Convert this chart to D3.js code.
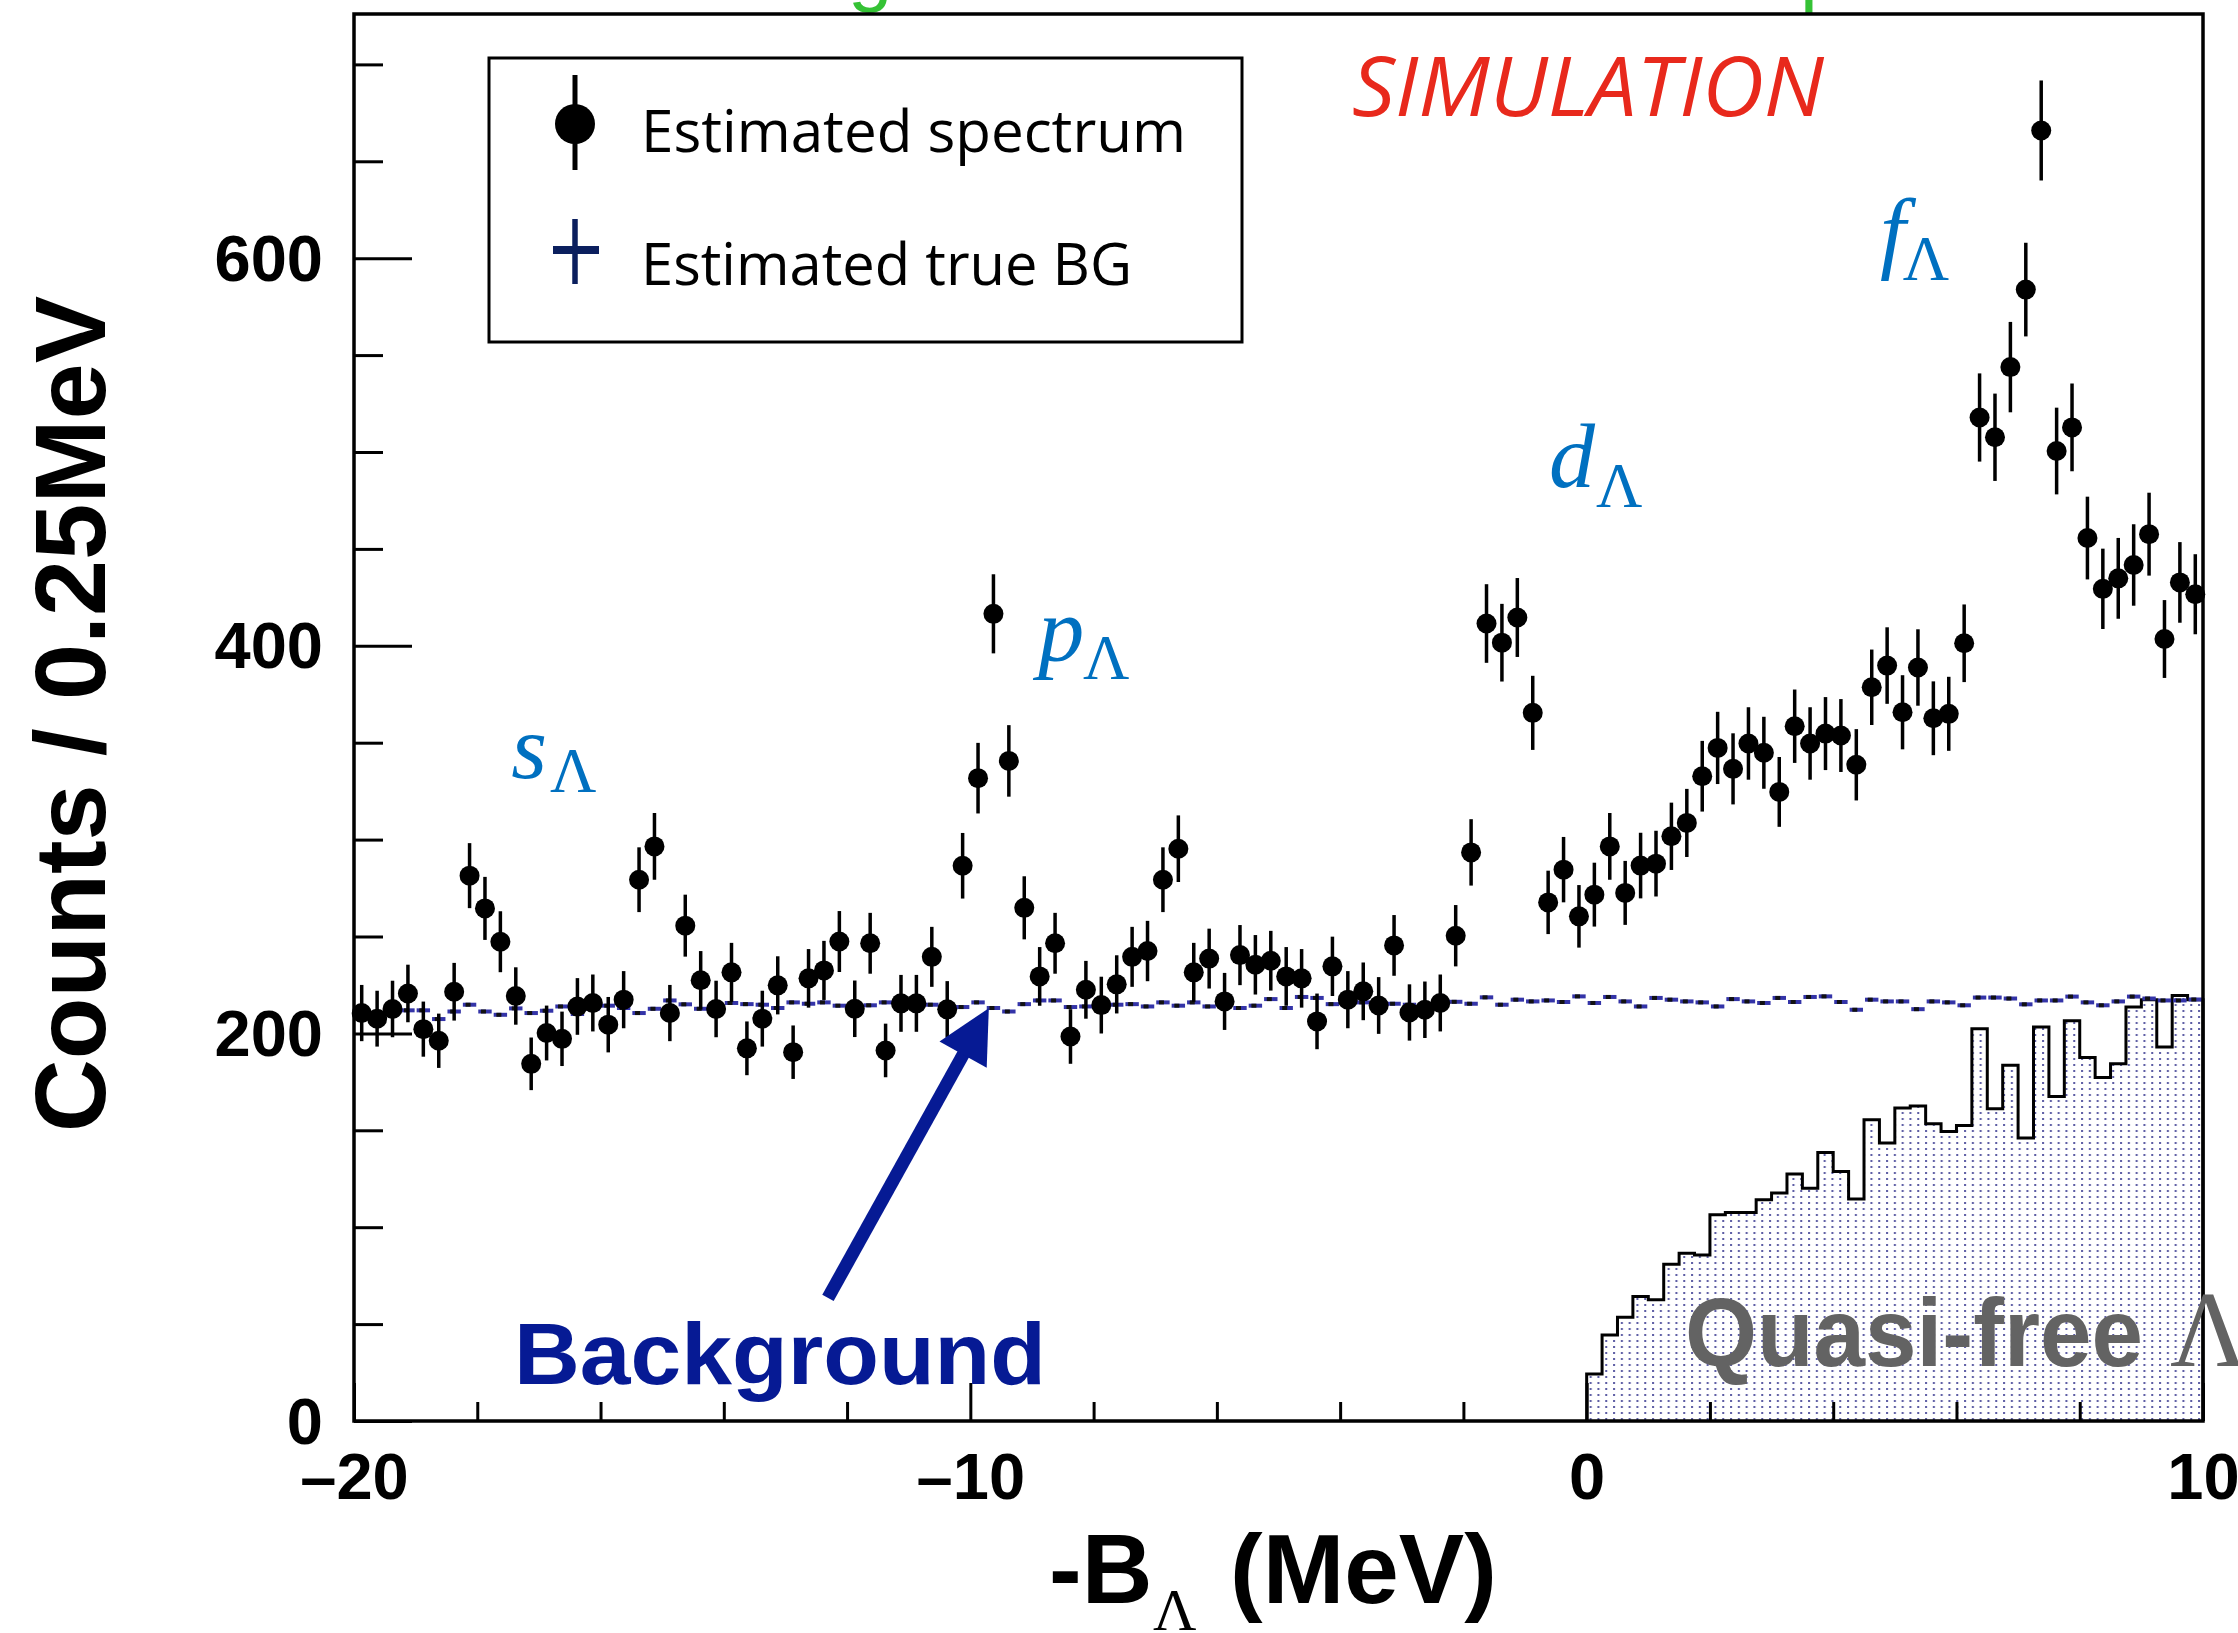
<!DOCTYPE html>
<html>
<head>
<meta charset="utf-8">
<script src="https://cdn.jsdelivr.net/npm/d3@7"></script>
<style>
  html, body { margin: 0; padding: 0; background: #fff; }
  svg { display: block; }
</style>
</head>
<body>
<svg id="chart" width="2238" height="1633"></svg>
<script>
// ---------------- DATA ----------------
const binWidth = 0.25;      // MeV
const xRange = [-20, 10];
const yMax = 726;

// Estimated spectrum (counts per 0.25 MeV bin, 120 bins from -20 to 10 MeV)
const spectrum = [
  210.5, 207.6, 212.6, 220.6, 202.2, 196.2, 221.5, 281.4, 264.5, 247.3,
  219.3, 184.3, 200.2, 197.2, 213.9, 215.7, 204.5, 217.4, 279.3, 296.5,
  210.5, 255.6, 227.4, 212.6, 231.5, 192.3, 207.6, 224.8, 190.3, 228.4,
  232.5, 247.4, 212.7, 246.5, 191.2, 215.5, 215.5, 239.5, 212.4, 286.5,
  331.7, 416.5, 340.6, 264.8, 229.4, 246.5, 198.4, 222.5, 214.6, 225.3,
  239.5, 242.5, 279.3, 295.3, 231.5, 238.6, 216.5, 240.4, 235.4, 237.5,
  229.4, 228.4, 206.2, 234.6, 217.4, 221.7, 214.4, 245.4, 210.8, 212.2,
  215.7, 250.4, 293.4, 411.5, 401.6, 414.6, 365.4, 267.6, 284.5, 260.4,
  271.6, 296.5, 272.5, 286.6, 287.6, 301.7, 308.6, 332.7, 347.3, 336.5,
  349.6, 344.8, 324.6, 358.5, 349.6, 354.7, 353.7, 338.6, 378.6, 389.8,
  365.7, 388.8, 362.6, 364.9, 401.3, 517.8, 507.6, 543.8, 583.8, 665.9,
  500.5, 512.7, 455.6, 429.4, 434.8, 441.7, 457.6, 403.5, 432.7, 426.6
];

// Estimated true BG (120 bins)
const background = [
  211.7, 208.8, 211.3, 211.9, 211.9, 207.4, 211.3, 214.8, 211.3, 209.6,
  212.9, 210.5, 211.7, 213.9, 210.0, 212.6, 214.3, 213.1, 210.5, 212.7,
  217.0, 215.0, 212.7, 213.6, 215.7, 215.1, 214.8, 213.1, 216.0, 215.3,
  216.0, 214.3, 212.7, 214.5, 216.0, 212.7, 215.1, 214.8, 214.3, 213.6,
  216.0, 213.1, 211.3, 215.1, 217.0, 217.0, 213.6, 213.9, 217.4, 214.8,
  215.1, 213.9, 216.0, 214.3, 216.0, 213.9, 216.2, 213.1, 214.3, 217.7,
  213.1, 218.8, 218.3, 215.1, 215.1, 216.0, 216.2, 215.3, 214.8, 214.8,
  217.7, 216.3, 215.3, 218.6, 214.8, 217.4, 216.5, 217.0, 216.2, 219.1,
  215.7, 218.8, 216.5, 213.9, 218.3, 217.4, 216.5, 216.0, 213.9, 217.7,
  216.5, 215.7, 218.3, 216.2, 218.8, 219.1, 216.2, 212.2, 217.4, 216.5,
  216.5, 212.5, 216.5, 216.0, 214.5, 218.5, 218.5, 218.0, 215.0, 217.0,
  217.0, 219.0, 216.0, 214.5, 216.5, 219.0, 218.0, 217.0, 217.0, 217.5
];

// Quasi-free Lambda histogram (40 bins from 0 to 10 MeV)
const quasiFreeStart = 0;
const quasiFree = [
  24.3, 44.4, 53.5, 64.2, 62.5, 80.9, 86.6, 85.7, 106.4, 107.6,
  107.6, 114.1, 117.6, 127.5, 120.1, 138.5, 128.7, 114.5, 155.4, 143.4,
  161.5, 162.6, 153.4, 149.4, 152.5, 202.4, 161.1, 183.5, 146.0, 203.3,
  167.5, 206.5, 187.6, 177.3, 184.3, 213.6, 217.4, 193.0, 219.6, 217.4
];

// Tick definitions
const xMajorTicks = [-20, -10, 0, 10];
const xMinorTicks = [-18, -16, -14, -12, -8, -6, -4, -2, 2, 4, 6, 8];
const yMajorTicks = [0, 200, 400, 600];
const yMinorTicks = [50, 100, 150, 250, 300, 350, 450, 500, 550, 650, 700];

const legendLabels = ["Estimated spectrum", "Estimated true BG"];

// Peak labels: [letter, x(MeV), y(counts), subscript x, subscript y]
const peakLabels = [
  ["s", -17.45, 332.0, -16.82, 324.8],
  ["p", -8.90, 392.4, -8.17, 383.1],
  ["d", -0.61, 481.7, 0.15, 471.4],
  ["f", 4.76, 597.9, 5.13, 588.6]
];

// ---------------- LAYOUT ----------------
const svg = d3.select("#chart");
const L = 354, R = 2203, T = 14, B = 1421;
const x = d3.scaleLinear().domain(xRange).range([L, R]);
const y = d3.scaleLinear().domain([0, yMax]).range([B, T]);

const SANS = "'Liberation Sans', Arial, Helvetica, sans-serif";
const SERIF = "'Liberation Serif', 'Times New Roman', serif";
const ROUND = "'Open Sans', 'Noto Sans', sans-serif";

// pattern for quasi-free fill
const defs = svg.append("defs");
const pat = defs.append("pattern")
  .attr("id", "dots").attr("patternUnits", "userSpaceOnUse")
  .attr("x", x(0)).attr("y", 0)
  .attr("width", 7.8).attr("height", 6);
pat.append("rect").attr("x", 3).attr("y", 2).attr("width", 2).attr("height", 2)
  .attr("fill", "#5a5aa2");

const clip = defs.append("clipPath").attr("id", "plotclip");
clip.append("rect").attr("x", L).attr("y", T).attr("width", R - L).attr("height", B - T);

// green (cut-off) text at very top
svg.append("text").attr("x", 848).attr("y", -4)
  .attr("font-family", SANS).attr("font-size", 80).attr("fill", "#35c235").text("g");
svg.append("text").attr("x", 1800).attr("y", -2)
  .attr("font-family", SANS).attr("font-size", 80).attr("fill", "#35c235").text("p");

// ---------------- QUASI-FREE HISTOGRAM ----------------
const qfPts = quasiFree.map((v, i) => [quasiFreeStart + i * binWidth, v]);
const qfLast = [quasiFreeStart + quasiFree.length * binWidth, quasiFree[quasiFree.length - 1]];
const area = d3.area().curve(d3.curveStepAfter)
  .x(d => x(d[0])).y0(y(0)).y1(d => y(d[1]));
svg.append("path").datum(qfPts.concat([qfLast]))
  .attr("d", area).attr("fill", "url(#dots)").attr("stroke", "none");
const line = d3.line().curve(d3.curveStepAfter).x(d => x(d[0])).y(d => y(d[1]));
svg.append("path")
  .datum([[quasiFreeStart, 0]].concat(qfPts, [qfLast], [[qfLast[0], 0]]))
  .attr("d", line).attr("fill", "none").attr("stroke", "#000").attr("stroke-width", 3);

// ---------------- BACKGROUND (estimated true BG) ----------------
const gBG = svg.append("g").attr("clip-path", "url(#plotclip)");
gBG.selectAll("line.bg").data(background).join("line")
  .attr("class", "bg")
  .attr("x1", (d, i) => x(xRange[0] + i * binWidth) + 1)
  .attr("x2", (d, i) => x(xRange[0] + (i + 1) * binWidth) - 1)
  .attr("y1", d => y(d)).attr("y2", d => y(d))
  .attr("stroke", "#3434a8").attr("stroke-width", 4);
gBG.selectAll("rect.bgm").data(background).join("rect")
  .attr("class", "bgm")
  .attr("x", (d, i) => x(xRange[0] + (i + 0.5) * binWidth) - 4)
  .attr("y", d => y(d) - 2)
  .attr("width", 5).attr("height", 4).attr("fill", "#111");

// ---------------- ESTIMATED SPECTRUM ----------------
const gS = svg.append("g");
const cx = i => x(xRange[0] + (i + 0.5) * binWidth);
gS.selectAll("line.err").data(spectrum).join("line")
  .attr("class", "err")
  .attr("x1", (d, i) => cx(i)).attr("x2", (d, i) => cx(i))
  .attr("y1", d => y(d - Math.sqrt(d))).attr("y2", d => y(d + Math.sqrt(d)))
  .attr("stroke", "#000").attr("stroke-width", 3.5);
gS.selectAll("circle").data(spectrum).join("circle")
  .attr("cx", (d, i) => cx(i)).attr("cy", d => y(d)).attr("r", 10).attr("fill", "#000");

// ---------------- AXES ----------------
const tickFmt = d => (d < 0 ? "\u2013" + Math.abs(d) : String(d));
const axX = svg.append("g").attr("transform", `translate(0,${B})`);
axX.append("g").call(d3.axisBottom(x).tickValues(xMinorTicks).tickSize(-19).tickFormat(""));
axX.append("g").call(d3.axisBottom(x).tickValues(xMajorTicks).tickSize(-38).tickPadding(32).tickFormat(tickFmt));
const axY = svg.append("g").attr("transform", `translate(${L},0)`);
axY.append("g").call(d3.axisLeft(y).tickValues(yMinorTicks).tickSize(-29).tickFormat(""));
axY.append("g").call(d3.axisLeft(y).tickValues(yMajorTicks).tickSize(-58).tickPadding(31).tickFormat(tickFmt));
svg.selectAll(".domain").remove();
svg.selectAll(".tick line").attr("stroke", "#000").attr("stroke-width", 3);
svg.selectAll(".tick text").attr("font-family", SANS).attr("font-weight", "bold")
  .attr("font-size", 65).attr("fill", "#000");
axY.selectAll(".tick text").attr("dy", "0.34em");

// frame
svg.append("rect").attr("x", L).attr("y", T).attr("width", R - L).attr("height", B - T)
  .attr("fill", "none").attr("stroke", "#000").attr("stroke-width", 3.5);

// axis titles
svg.append("text")
  .attr("transform", `translate(105,714) rotate(-90)`)
  .attr("text-anchor", "middle").attr("font-family", SANS).attr("font-weight", "bold")
  .attr("font-size", 101).attr("fill", "#000").text("Counts / 0.25MeV");
const xt = svg.append("g").attr("font-family", SANS).attr("font-weight", "bold").attr("fill", "#000");
xt.append("text").attr("x", 1049).attr("y", 1603).attr("font-size", 98).text("-B");
xt.append("text").attr("x", 1153).attr("y", 1630).attr("font-size", 60)
  .attr("font-family", SERIF).attr("font-weight", "normal").text("\u039B");
xt.append("text").attr("x", 1230).attr("y", 1603).attr("font-size", 98).text("(MeV)");

// ---------------- LEGEND ----------------
svg.append("rect").attr("x", 489).attr("y", 58).attr("width", 753).attr("height", 284)
  .attr("fill", "#fff").attr("stroke", "#000").attr("stroke-width", 3);
svg.append("line").attr("x1", 575).attr("x2", 575).attr("y1", 75).attr("y2", 170)
  .attr("stroke", "#000").attr("stroke-width", 5);
svg.append("circle").attr("cx", 575).attr("cy", 124).attr("r", 20).attr("fill", "#000");
svg.append("line").attr("x1", 575).attr("x2", 575).attr("y1", 219).attr("y2", 284)
  .attr("stroke", "#0b1f5e").attr("stroke-width", 5.5);
svg.append("line").attr("x1", 553).attr("x2", 599).attr("y1", 250).attr("y2", 250)
  .attr("stroke", "#0b1f5e").attr("stroke-width", 8);
svg.selectAll("text.leg").data(legendLabels).join("text")
  .attr("class", "leg")
  .attr("x", 641).attr("y", (d, i) => [152, 285][i])
  .attr("textLength", (d, i) => [545, 491][i]).attr("lengthAdjust", "spacingAndGlyphs")
  .attr("font-family", ROUND).attr("font-size", 58).attr("fill", "#000").text(d => d);

// ---------------- ANNOTATIONS ----------------
svg.append("text").attr("x", 1352).attr("y", 116)
  .attr("textLength", 472).attr("lengthAdjust", "spacingAndGlyphs")
  .attr("font-family", ROUND).attr("font-style", "italic").attr("font-size", 82)
  .attr("fill", "#e8291c").text("SIMULATION");

peakLabels.forEach(([t, px, py, sx, sy]) => {
  svg.append("text").attr("x", x(px)).attr("y", y(py))
    .attr("font-family", SERIF).attr("font-style", "italic").attr("font-size", 92)
    .attr("fill", "#0070c0").text(t);
  svg.append("text").attr("x", x(sx)).attr("y", y(sy))
    .attr("font-family", SERIF).attr("font-size", 64)
    .attr("fill", "#0070c0").text("\u039B");
});

// Background arrow
const tail = [x(-12.31), y(63.5)], tip = [x(-9.70), y(213)];
const dx = tip[0] - tail[0], dy = tip[1] - tail[1], len = Math.hypot(dx, dy);
const ux = dx / len, uy = dy / len, nx = -uy, ny = ux;
const headL = 53, headW = 27;
const base = [tip[0] - ux * headL, tip[1] - uy * headL];
svg.append("line").attr("x1", tail[0]).attr("y1", tail[1])
  .attr("x2", base[0] + ux * 4).attr("y2", base[1] + uy * 4)
  .attr("stroke", "#061a94").attr("stroke-width", 13);
svg.append("path")
  .attr("d", `M${tip[0]},${tip[1]}L${base[0] + nx * headW},${base[1] + ny * headW}L${base[0] - nx * headW},${base[1] - ny * headW}Z`)
  .attr("fill", "#061a94");
svg.append("text").attr("x", 514).attr("y", 1384)
  .attr("textLength", 532).attr("lengthAdjust", "spacingAndGlyphs")
  .attr("font-family", SANS).attr("font-weight", "bold").attr("font-size", 88)
  .attr("fill", "#061a94").text("Background");

// Quasi-free label
svg.append("text").attr("x", 1685).attr("y", 1366)
  .attr("textLength", 458).attr("lengthAdjust", "spacingAndGlyphs")
  .attr("font-family", SANS).attr("font-weight", "bold").attr("font-size", 96)
  .attr("fill", "#636363").text("Quasi-free");
svg.append("text").attr("x", 2170).attr("y", 1366)
  .attr("font-family", SERIF).attr("font-size", 108)
  .attr("fill", "#636363").text("\u039B");
</script>
</body>
</html>
